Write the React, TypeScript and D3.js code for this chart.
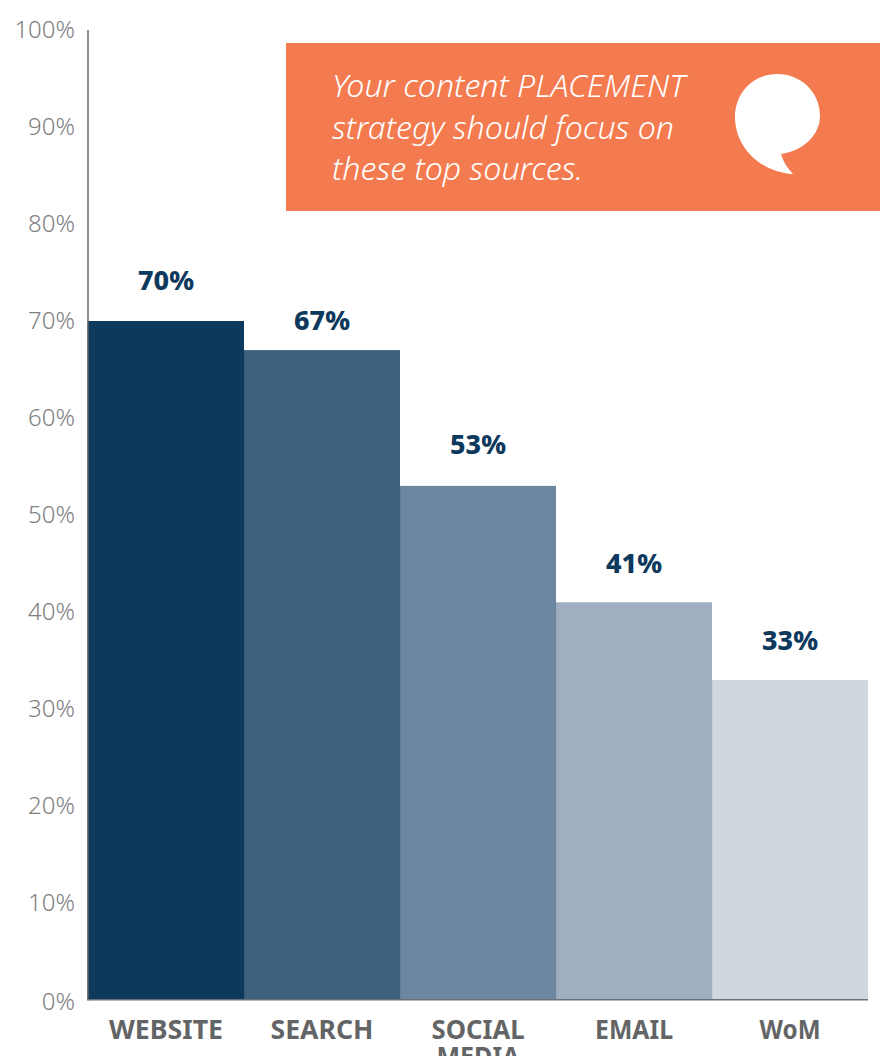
import React from "react";
import * as d3 from "d3";

const categories = ["WEBSITE", "SEARCH", "SOCIAL|MEDIA", "EMAIL", "WoM"];
const shares = [70, 67, 53, 41, 33];
const labelLevels = [73.2, 69.1, 56.3, 44, 36.1];
const barColors = ["#0d395d", "#3e617f", "#6e87a0", "#9fafbf", "#d0d7df"];
const edgeColors = ["#56677a", "#0d395d", "#3e617f", "#6e87a0", "#9fafbf"];
const categoryWidths = [[114], [103], [93, 83], [78], [61]];
const calloutLines = ["Your content PLACEMENT", "strategy should focus on", "these top sources."];
const calloutWidths = [353, 342, 251];

const WIDTH = 880;
const HEIGHT = 1056;
const FONT = "'Noto Sans', sans-serif";

const x = d3.scaleBand<string>().domain(categories).range([88, 868]).padding(0);
const y = d3.scaleLinear().domain([0, 100]).range([1000, 30]);
const yTicks = d3.range(0, 101, 10);

export default function App() {
  return (
    <svg
      width={WIDTH}
      height={HEIGHT}
      viewBox={`0 0 ${WIDTH} ${HEIGHT}`}
      style={{ position: "absolute", left: 0, top: 0, background: "#fff" }}
      fontFamily={FONT}
    >
      {/* value axis labels */}
      <g textAnchor="end" fill="#808080" fontSize={24} fontWeight={300}>
        {yTicks.map((t) => (
          <text key={t} x={75} y={y(t) + 7.5 + (t === 0 ? 2 : 0)}>
            {t}%
          </text>
        ))}
      </g>

      {/* bars, each with a hairline on its left edge */}
      {categories.map((c, i) => (
        <g key={c}>
          <rect x={x(c)} y={y(shares[i])} width={x.bandwidth()} height={y(0) - y(shares[i])} fill={barColors[i]} />
          <line
            x1={x(c)! - 0.25}
            x2={x(c)! - 0.25}
            y1={y(shares[i])}
            y2={y(0)}
            stroke={edgeColors[i]}
            strokeWidth={0.8}
          />
        </g>
      ))}

      {/* axis lines */}
      <line x1={88} x2={88} y1={y(100)} y2={y(0) + 0.5} stroke="#5f6468" strokeWidth={1.4} />
      <line x1={87.5} x2={868} y1={y(0) - 0.2} y2={y(0) - 0.2} stroke="#6a7078" strokeWidth={1.6} />

      {/* value labels */}
      <g textAnchor="middle" fill="#0d395d" fontSize={27} fontWeight={800}>
        {categories.map((c, i) => (
          <text key={c} x={x(c)! + x.bandwidth() / 2} y={y(labelLevels[i])} textLength={56} lengthAdjust="spacingAndGlyphs">
            {shares[i]}%
          </text>
        ))}
      </g>

      {/* category labels; the page cuts off the second line of the long one */}
      <g textAnchor="middle" fill="#636466" fontSize={26} fontWeight={700}>
        {categories.map((c, i) =>
          c.split("|").map((part, k) => (
            <text
              key={part}
              x={x(c)! + x.bandwidth() / 2}
              y={1039 + k * 27}
              textLength={categoryWidths[i][k]}
              lengthAdjust="spacingAndGlyphs"
            >
              {part}
            </text>
          ))
        )}
      </g>

      {/* callout */}
      <rect x={286} y={43} width={594} height={168} fill="#f47b4f" />
      <g fill="#fff" fontSize={32} fontStyle="italic" fontWeight={300}>
        {calloutLines.map((line, i) => (
          <text key={line} x={332} y={97 + i * 41.5} textLength={calloutWidths[i]} lengthAdjust="spacingAndGlyphs">
            {line}
          </text>
        ))}
      </g>
      <path
        fill="#fff"
        d="M781 154 C803 151 820 135 820 116 C820 92 801 74 777 74 C753 74 735 93 735 117 C735 147 760 172 793 174 C787 168 783 161 781 154 Z"
      />
    </svg>
  );
}
